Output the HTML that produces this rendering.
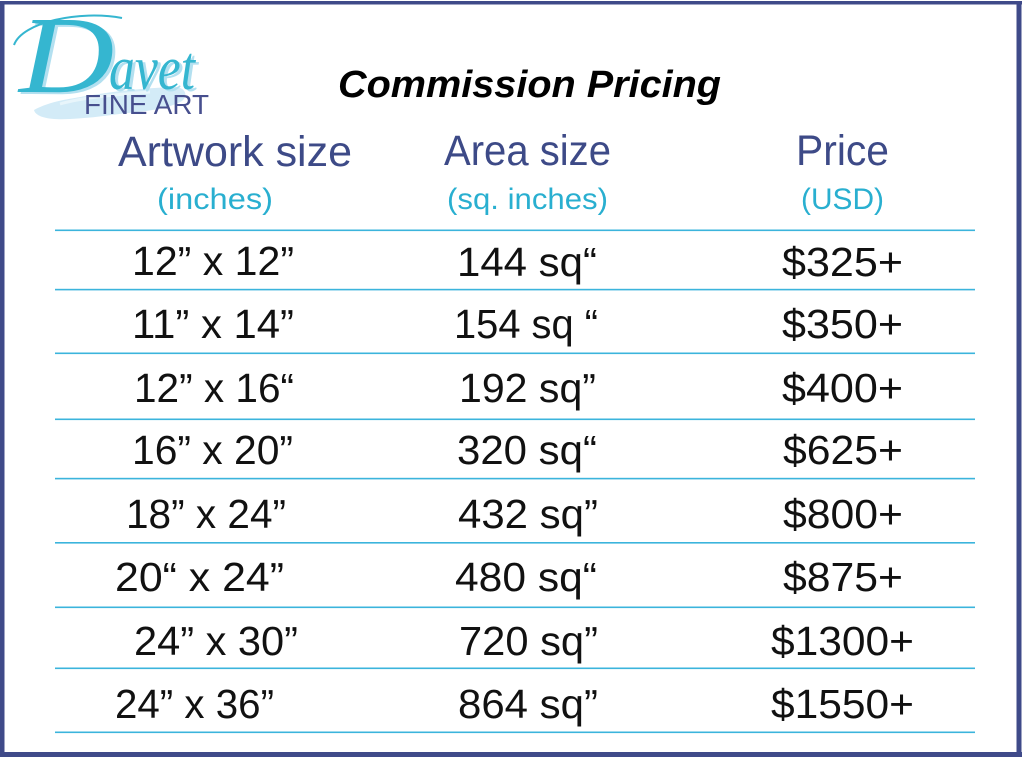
<!DOCTYPE html>
<html>
<head>
<meta charset="utf-8">
<style>
  html,body{margin:0;padding:0;background:#fff;}
  body{width:1023px;height:757px;overflow:hidden;}
  svg{display:block;}
  .row{font-family:"Liberation Sans",sans-serif;font-size:41px;fill:#111;}
  .hd{font-family:"Liberation Sans",sans-serif;font-size:43px;fill:#3d4a87;}
  .sub{font-family:"Liberation Sans",sans-serif;font-size:30px;fill:#29afd0;}
</style>
</head>
<body>
<svg width="1023" height="757" viewBox="0 0 1023 757" xmlns="http://www.w3.org/2000/svg">
  <rect x="0" y="0" width="1023" height="757" fill="#fff"/>
  <!-- border -->
  <rect x="0" y="1" width="4.5" height="756" fill="#3f4a89"/>
  <rect x="0" y="1" width="1022" height="3.5" fill="#3f4a89"/>
  <rect x="1016.5" y="1" width="5" height="756" fill="#3f4a89"/>
  <rect x="0" y="752" width="1022" height="5" fill="#3f4a89"/>

  <!-- logo brush -->
  <path d="M34,110 C50,101 70,99 86,96 C110,92 140,88 176,87 C186,88 188,96 182,101 C170,108 150,111 128,113 C110,115 92,118 70,119 C52,120 36,118 34,110 Z" fill="#d3ebf7"/>
  <path d="M60,104 C80,98 110,95 150,92" stroke="#e8f5fb" stroke-width="3" fill="none"/>
  <!-- Davet script -->
  <g font-family="'Liberation Serif',serif" font-style="italic">
    <text x="0" y="0" font-size="110" fill="#b3e0f0" transform="translate(22,94) scale(1.2,1)">D</text>
    <text x="0" y="0" font-size="110" fill="#35b6d0" transform="translate(19,92) scale(1.2,1)">D</text>
    <text x="112" y="91" font-size="62" fill="#b3e0f0" textLength="86" lengthAdjust="spacingAndGlyphs">avet</text>
    <text x="109" y="89" font-size="62" fill="#35b6d0" textLength="86" lengthAdjust="spacingAndGlyphs">avet</text>
  </g>
  <path d="M14,45 C22,22 80,10 122,18" stroke="#35b6d0" stroke-width="2" fill="none"/>
  <text x="84" y="114" font-family="'Liberation Sans',sans-serif" font-size="28" fill="#474f8e" textLength="125" lengthAdjust="spacingAndGlyphs">FINE ART</text>

  <!-- title -->
  <text x="338" y="97" font-family="'Liberation Sans',sans-serif" font-size="38" font-weight="bold" font-style="italic" fill="#000" textLength="383" lengthAdjust="spacingAndGlyphs">Commission Pricing</text>

  <!-- headers -->
  <text class="hd" x="118" y="166" textLength="234" lengthAdjust="spacingAndGlyphs">Artwork size</text>
  <text class="hd" x="444" y="165" textLength="167" lengthAdjust="spacingAndGlyphs">Area size</text>
  <text class="hd" x="796" y="165" textLength="93" lengthAdjust="spacingAndGlyphs">Price</text>
  <text class="sub" x="157" y="209" textLength="116" lengthAdjust="spacingAndGlyphs">(inches)</text>
  <text class="sub" x="447" y="209" textLength="161" lengthAdjust="spacingAndGlyphs">(sq. inches)</text>
  <text class="sub" x="801" y="209" textLength="83" lengthAdjust="spacingAndGlyphs">(USD)</text>

  <!-- lines -->
  <g fill="#3bb4dc">
    <rect x="55" y="229.5" width="920" height="1.6"/>
    <rect x="55" y="288.8" width="920" height="1.6"/>
    <rect x="55" y="352.5" width="920" height="1.6"/>
    <rect x="55" y="418.5" width="920" height="1.6"/>
    <rect x="55" y="477.8" width="920" height="1.6"/>
    <rect x="55" y="542" width="920" height="1.6"/>
    <rect x="55" y="606.5" width="920" height="1.6"/>
    <rect x="55" y="667.5" width="920" height="1.6"/>
    <rect x="55" y="731.5" width="920" height="1.6"/>
  </g>

  <!-- left column -->
  <text class="row" x="132" y="275" textLength="162" lengthAdjust="spacingAndGlyphs">12” x 12”</text>
  <text class="row" x="132" y="338" textLength="162" lengthAdjust="spacingAndGlyphs">11” x 14”</text>
  <text class="row" x="134" y="402" textLength="160" lengthAdjust="spacingAndGlyphs">12” x 16“</text>
  <text class="row" x="132" y="464" textLength="161" lengthAdjust="spacingAndGlyphs">16” x 20”</text>
  <text class="row" x="126" y="528" textLength="160" lengthAdjust="spacingAndGlyphs">18” x 24”</text>
  <text class="row" x="115" y="591" textLength="169" lengthAdjust="spacingAndGlyphs">20“ x 24”</text>
  <text class="row" x="134" y="655" textLength="164" lengthAdjust="spacingAndGlyphs">24” x 30”</text>
  <text class="row" x="115" y="718" textLength="159" lengthAdjust="spacingAndGlyphs">24” x 36”</text>

  <!-- middle column -->
  <text class="row" x="457" y="276" textLength="140" lengthAdjust="spacingAndGlyphs">144 sq“</text>
  <text class="row" x="454" y="338" textLength="144" lengthAdjust="spacingAndGlyphs">154 sq “</text>
  <text class="row" x="459" y="402" textLength="137" lengthAdjust="spacingAndGlyphs">192 sq”</text>
  <text class="row" x="457" y="464" textLength="140" lengthAdjust="spacingAndGlyphs">320 sq“</text>
  <text class="row" x="458" y="528" textLength="140" lengthAdjust="spacingAndGlyphs">432 sq”</text>
  <text class="row" x="455" y="591" textLength="142" lengthAdjust="spacingAndGlyphs">480 sq“</text>
  <text class="row" x="459" y="655" textLength="139" lengthAdjust="spacingAndGlyphs">720 sq”</text>
  <text class="row" x="458" y="718" textLength="140" lengthAdjust="spacingAndGlyphs">864 sq”</text>

  <!-- right column -->
  <text class="row" x="782" y="276" textLength="121" lengthAdjust="spacingAndGlyphs">$325+</text>
  <text class="row" x="782" y="338" textLength="121" lengthAdjust="spacingAndGlyphs">$350+</text>
  <text class="row" x="782" y="402" textLength="121" lengthAdjust="spacingAndGlyphs">$400+</text>
  <text class="row" x="783" y="464" textLength="120" lengthAdjust="spacingAndGlyphs">$625+</text>
  <text class="row" x="783" y="528" textLength="120" lengthAdjust="spacingAndGlyphs">$800+</text>
  <text class="row" x="783" y="591" textLength="120" lengthAdjust="spacingAndGlyphs">$875+</text>
  <text class="row" x="771" y="655" textLength="143" lengthAdjust="spacingAndGlyphs">$1300+</text>
  <text class="row" x="771" y="718" textLength="143" lengthAdjust="spacingAndGlyphs">$1550+</text>
</svg>
</body>
</html>
